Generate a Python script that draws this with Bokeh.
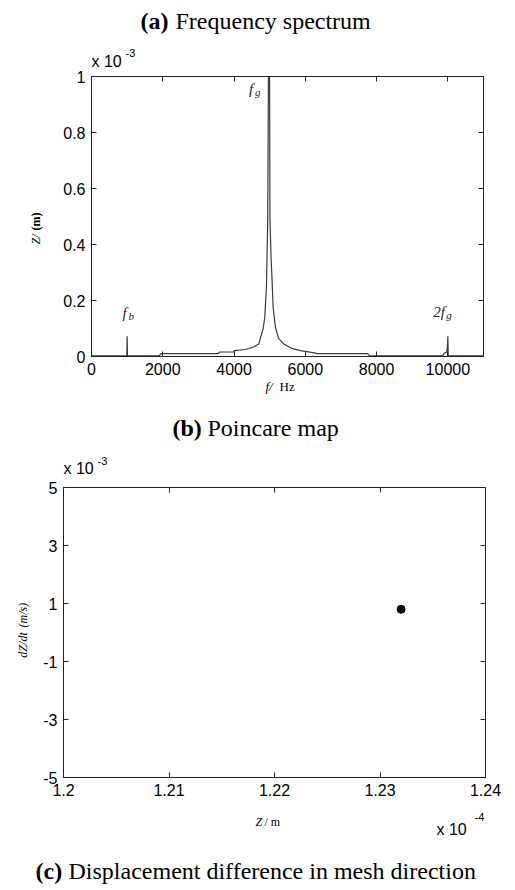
import math
from bokeh.plotting import figure
from bokeh.models import Range1d, LinearAxis, FixedTicker, Label
from bokeh.embed import file_html
from bokeh.resources import INLINE

# ---------------- data ----------------
# (a) frequency spectrum: frequency (Hz) and amplitude (x 1e-3 m)
freq_hz = [0, 990, 1000, 1010, 1900, 1950, 3550, 3600, 3990, 4000, 4320, 4550,
           4694, 4817, 4862, 4909, 4946, 4985, 5008, 5040, 5068, 5096, 5161,
           5250, 5395, 5600, 5862, 6000, 6300, 6330, 7750, 7800, 9850, 9900,
           9960, 9985, 10000, 10010, 11000]
amp_e3 = [0.002, 0.002, 0.072, 0.002, 0.002, 0.010, 0.010, 0.016, 0.016, 0.021,
          0.025, 0.034, 0.045, 0.100, 0.140, 0.250, 0.490, 1.600, 0.490, 0.350,
          0.270, 0.176, 0.105, 0.065, 0.045, 0.030, 0.021, 0.018, 0.012, 0.010,
          0.010, 0.002, 0.002, 0.012, 0.015, 0.030, 0.072, 0.002, 0.002]
spec_xticks = [0, 2000, 4000, 6000, 8000, 10000]
spec_xlabels = ["0", "2000", "4000", "6000", "8000", "10000"]
spec_yticks = [0, 0.2, 0.4, 0.6, 0.8, 1.0]
spec_ylabels = ["0", "0.2", "0.4", "0.6", "0.8", "1"]
peak_names = ["f", "f", "2f"]
peak_subs = ["b", "g", "g"]

# (b) Poincare map: Z (x 1e-4 m), dZ/dt (x 1e-3 m/s)
poin_z_e4 = [1.232]
poin_dz_e3 = [0.8]
poin_xticks = [1.20, 1.21, 1.22, 1.23, 1.24]
poin_xlabels = ["1.2", "1.21", "1.22", "1.23", "1.24"]
poin_yticks = [-5, -3, -1, 1, 3, 5]
poin_ylabels = ["-5", "-3", "-1", "1", "3", "5"]

# ---------------- layout constants ----------------
W = 515
H1, H2 = 400, 488
SANS = "Liberation Sans"
SERIF = "Liberation Serif"
# frames in page pixels: left, right, top, bottom
F1 = (91, 483, 76, 356)
F2 = (63, 485, 487, 778)
R1 = ((0, 11000), (0, 1))
R2 = ((1.20, 1.24), (-5, 5))


def to_data(frame, rng, px, py):
    l, r, t, b = frame
    (x0, x1), (y0, y1) = rng
    return (x0 + (px - l) / (r - l) * (x1 - x0), y0 + (b - py) / (b - t) * (y1 - y0))


def lab(p, frame, rng, side, px, py, text, size, font=SERIF, style="normal",
        align="left", angle=0.0, color="black"):
    x, y = to_data(frame, rng, px, py)
    p.add_layout(Label(x=x, y=y, text=text, text_font=font,
                       text_font_size=f"{size}px", text_font_style=style,
                       text_align=align, text_baseline="middle", angle=angle,
                       text_color=color), side)


def style_axes(p, xticks, xlabels, yticks, ylabels):
    p.xgrid.visible = False
    p.ygrid.visible = False
    p.outline_line_color = "#222222"
    p.outline_line_width = 1
    bottom = p.below[0]
    left = p.left[0]
    top = LinearAxis()
    right = LinearAxis()
    p.add_layout(top, "above")
    p.add_layout(right, "right")
    for ax in [bottom, top]:
        ax.ticker = FixedTicker(ticks=xticks)
        ax.major_label_overrides = {t: l for t, l in zip(xticks, xlabels)}
    for ax in [left, right]:
        ax.ticker = FixedTicker(ticks=yticks)
        ax.major_label_overrides = {t: l for t, l in zip(yticks, ylabels)}
    for ax in [bottom, left, top, right]:
        ax.major_tick_in = 5
        ax.major_tick_out = 0
        ax.minor_tick_line_color = None
        ax.axis_line_color = "#222222"
        ax.major_tick_line_color = "#222222"
        ax.major_label_text_font = SANS
        ax.major_label_text_font_size = "16px"
        ax.major_label_text_color = "black"
        ax.major_label_standoff = 6
    for ax in [top, right]:
        ax.major_label_text_alpha = 0
        ax.major_label_text_font_size = "0px"
        ax.major_label_standoff = 0


# ---------------- figure (a) ----------------
p1 = figure(width=W, height=H1, x_range=Range1d(*R1[0]), y_range=Range1d(*R1[1]),
            output_backend="svg", toolbar_location=None,
            min_border_left=F1[0], min_border_right=W - F1[1], min_border_top=F1[2],
            min_border_bottom=H1 - F1[3])
style_axes(p1, spec_xticks, spec_xlabels, spec_yticks, spec_ylabels)
p1.line(freq_hz, amp_e3, line_color="#3a3a3a", line_width=1.2)

# peak annotations (italic f with subscript)
peak_pos_f = [870, 4420, 9590]
peak_pos_a = [0.157, 0.957, 0.160]
sub_shift = [6, 6, 13]
for n, s, fx, ay, sh in zip(peak_names, peak_subs, peak_pos_f, peak_pos_a, sub_shift):
    p1.add_layout(Label(x=fx, y=ay, text=n, text_font=SERIF, text_font_size="15px",
                        text_font_style="italic", text_baseline="middle",
                        text_color="#222222"))
    p1.add_layout(Label(x=fx, y=ay, x_offset=sh, y_offset=-3, text=s, text_font=SERIF,
                        text_font_size="11px", text_font_style="italic",
                        text_baseline="middle", text_color="#222222"))

lab(p1, F1, R1, "right", 140, 20, "(a)", 24, style="bold")
lab(p1, F1, R1, "above", 175, 20, "Frequency spectrum", 24)
lab(p1, F1, R1, "above", 91, 61, "x 10", 16, font=SANS)
lab(p1, F1, R1, "above", 125, 52, "-3", 11, font=SANS)
lab(p1, F1, R1, "left", 35, 239, "Z/", 12, style="italic", align="center", angle=math.pi / 2)
lab(p1, F1, R1, "left", 35, 221, "(m)", 12, style="bold", align="center", angle=math.pi / 2)
lab(p1, F1, R1, "below", 265, 386, "f/", 13, style="italic")
lab(p1, F1, R1, "above", 279, 386, "Hz", 13)

# ---------------- figure (b) ----------------
p2 = figure(width=W, height=H2, x_range=Range1d(*R2[0]), y_range=Range1d(*R2[1]),
            output_backend="svg", toolbar_location=None,
            min_border_left=F2[0], min_border_right=W - F2[1],
            min_border_top=F2[2] - H1, min_border_bottom=H1 + H2 - F2[3])
style_axes(p2, poin_xticks, poin_xlabels, poin_yticks, poin_ylabels)
p2.scatter(poin_z_e4, poin_dz_e3, size=8, color="black")

lab(p2, F2, R2, "above", 172, 427, "(b)", 24, style="bold")
lab(p2, F2, R2, "above", 207, 427, "Poincare map", 24)
lab(p2, F2, R2, "above", 63, 468, "x 10", 16, font=SANS)
lab(p2, F2, R2, "above", 97, 460, "-3", 11, font=SANS)
lab(p2, F2, R2, "left", 22, 645, "dZ/dt", 12, style="italic", align="center", angle=math.pi / 2)
lab(p2, F2, R2, "below", 22, 615, "(m/s)", 12, style="italic", align="center", angle=math.pi / 2)
lab(p2, F2, R2, "left", 255, 823, "Z", 12, style="italic")
lab(p2, F2, R2, "below", 264, 823, "/ m", 12)
lab(p2, F2, R2, "below", 436, 830, "x 10", 16, font=SANS)
lab(p2, F2, R2, "below", 474, 818, "-4", 11, font=SANS)
lab(p2, F2, R2, "right", 35, 872, "(c)", 24, style="bold")
lab(p2, F2, R2, "below", 68, 872, "Displacement difference in mesh direction", 24)

open("out.html", "w").write(file_html([p1, p2], INLINE))
